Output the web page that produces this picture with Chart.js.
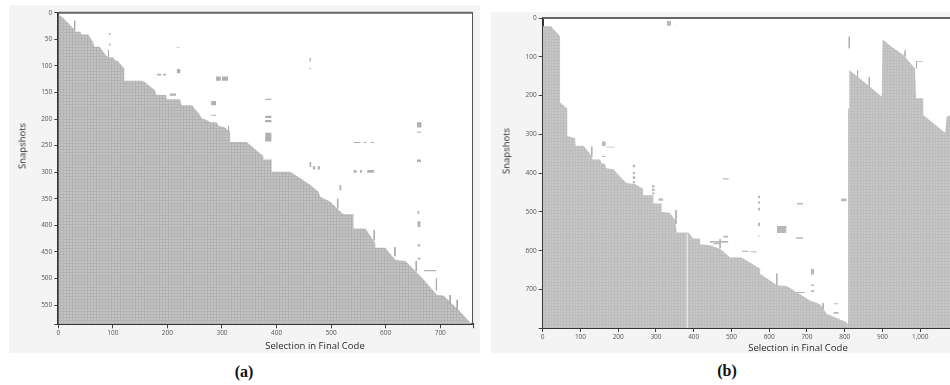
<!DOCTYPE html>
<html><head><meta charset="utf-8">
<script src="https://cdn.jsdelivr.net/npm/chart.js@4.4.1/dist/chart.umd.min.js"></script>
<style>
html,body{margin:0;padding:0;width:950px;height:385px;overflow:hidden;background:#fff;position:relative;}
canvas{position:absolute;background:#f4f4f4;}
#ca{left:9px;top:5px;}
#cb{left:491px;top:12px;}
.t{position:absolute;font-family:'Open Sans',sans-serif;font-size:9.5px;color:#2a2a2a;white-space:nowrap;transform:translate(-50%,-50%);}
.r{transform:translate(-50%,-50%) rotate(-90deg);}
.cap{position:absolute;font-family:'Liberation Serif',serif;font-weight:bold;font-size:16px;color:#111;white-space:nowrap;transform:translate(-50%,-50%);}
</style></head><body>
<canvas id="ca" width="471" height="348"></canvas>
<canvas id="cb" width="470" height="341"></canvas>
<div class="t r" style="left:21.7px;top:145.7px">Snapshots</div>
<div class="t" style="left:315px;top:345px">Selection in Final Code</div>
<div class="t r" style="left:506px;top:150.7px">Snapshots</div>
<div class="t" style="left:798px;top:347px">Selection in Final Code</div>
<div class="cap" style="left:244px;top:372px">(a)</div>
<div class="cap" style="left:727px;top:371px">(b)</div>
<script>
// ---------- Panel (a) data ----------
const xTicksA = [0,100,200,300,400,500,600,700];
const yTicksA = [0,50,100,150,200,250,300,350,400,450,500,550];
const xMaxA = 760, yMaxA = 586;
// first snapshot in which each selection appears (staircase boundary)
const boundaryA = [[0,3],[9,10],[29,31],[32,36],[40,36],[43,41],[55,41],[64,56],[66,64],[76,64],[87,80],[92,84],[101,84],[104,90],[108,90],[121,105],[121,128],[155,128],[165,136],[177,146],[180,155],[197,155],[199,163],[223,163],[226,174],[245,174],[260,193],[263,199],[272,202],[278,206],[290,206],[294,213],[304,215],[315,224],[315,243],[345,243],[376,270],[376,276],[391,276],[391,299],[425,299],[443,311],[462,324],[477,337],[480,346],[498,355],[520,377],[523,379],[541,379],[541,406],[563,406],[581,434],[581,442],[599,442],[618,465],[636,467],[667,499],[694,531],[706,532],[737,563],[758,586],[760,586]];
// isolated blocks [x0,x1,y0,y1]
const blocksA = [[93,96,38,42],[93,96,58,62],[216,223,65,66],[217,224,106,114],[181,189,115,118],[192,198,115,118],[204,216,152,156],[289,298,120,128],[300,311,120,128],[280,289,166,174],[280,289,192,194],[460,463,85,92],[460,463,104,106],[379,391,162,164],[379,391,194,198],[379,391,202,206],[379,391,226,242],[657,666,206,216],[657,665,224,226],[657,665,276,281],[541,554,243,245],[559,565,243,245],[572,579,243,245],[460,464,281,290],[466,471,289,295],[475,480,289,295],[541,547,296,301],[553,557,296,301],[566,579,296,301],[515,519,324,334],[658,662,373,378],[658,664,392,403],[658,664,436,439],[658,664,461,464],[670,693,484,486]];
// thin vertical runs [x,y0,y1]
const spikesA = [[30,15,33],[92,70,84],[312,213,224],[512,350,368],[579,409,428],[617,441,458],[656,467,486],[693,500,522],[718,531,547],[731,540,560]];
const gapsA = [];

// ---------- Panel (b) data ----------
const xTicksB = [0,100,200,300,400,500,600,700,800,900,1000];
const yTicksB = [0,100,200,300,400,500,600,700];
const xMaxB = 1100, yMaxB = 799;
const boundaryB = [[0,21],[22,21],[46,48],[46,218],[65,233],[65,304],[86,310],[87,329],[108,329],[125,349],[132,365],[152,365],[156,375],[165,375],[168,387],[187,390],[213,417],[222,425],[244,428],[266,440],[266,457],[293,457],[293,478],[315,478],[315,500],[337,502],[351,521],[355,553],[386,553],[399,568],[417,568],[417,583],[443,586],[470,595],[496,617],[527,617],[576,646],[576,659],[620,689],[646,691],[708,728],[735,738],[752,762],[805,784],[808,790],[809,790],[809,233],[812,233],[812,134],[867,177],[898,203],[900,55],[924,74],[955,95],[986,130],[989,207],[1008,207],[1008,250],[1066,296],[1070,255],[1100,240]];
const blocksB = [[329,340,8,20],[349,352,18,20],[157,167,318,330],[168,191,332,334],[156,165,356,358],[238,245,378,385],[238,245,397,403],[238,245,408,415],[238,245,420,426],[289,297,431,437],[289,297,440,446],[289,297,450,454],[306,319,465,471],[452,470,580,583],[477,493,413,416],[570,576,458,464],[570,576,473,479],[570,576,489,496],[570,576,528,536],[570,576,561,563],[620,646,536,554],[673,690,477,481],[671,690,565,569],[710,719,647,661],[710,719,687,691],[710,719,702,706],[770,784,735,738],[770,784,758,762],[790,805,465,472],[478,492,561,566],[443,492,575,579],[527,545,600,603],[550,567,601,604],[671,695,706,709],[990,1008,111,113]];
const spikesB = [[812,48,78],[834,134,152],[865,152,176],[960,84,99],[990,111,130],[620,659,689],[743,735,750],[470,570,593],[130,332,358],[353,495,531]];
const gapsB = [[383,556,799]];

// ---------- drawing ----------
function texture(base, line, n){
  const c=document.createElement('canvas'); c.width=c.height=n;
  const g=c.getContext('2d'); g.fillStyle=base; g.fillRect(0,0,n,n);
  g.fillStyle=line; g.fillRect(0,0,n,1); g.fillRect(0,0,1,n);
  return g.createPattern(c,'repeat');
}
const framePlugin = {
  id:'frame',
  beforeDraw(chart){const {ctx,chartArea:a}=chart; ctx.save(); ctx.fillStyle='#fff'; ctx.fillRect(a.left,a.top,a.right-a.left,a.bottom-a.top); ctx.restore();},
  afterDraw(chart){const {ctx,chartArea:a}=chart; ctx.save();
    ctx.strokeStyle='#666'; ctx.lineWidth=2; ctx.beginPath(); ctx.moveTo(a.left,a.top); ctx.lineTo(a.right,a.top); ctx.stroke();
    ctx.strokeStyle='#555'; ctx.lineWidth=1; ctx.beginPath(); ctx.moveTo(a.right-0.5,a.top); ctx.lineTo(a.right-0.5,a.bottom); ctx.stroke();
    ctx.restore();}
};
function segs(list){const out=[]; list.forEach(s=>{out.push({x:s[0],y:s[1]},{x:s[0],y:s[2]},{x:s[0],y:null});}); return out;}
const NONE='rgba(0,0,0,0)';
function build(id, c){
  const ds=[];
  c.blocks.forEach(b=>ds.push({data:[{x:b[0],y:b[2]},{x:b[1],y:b[2]}],fill:{value:b[3]},backgroundColor:c.mark,borderColor:NONE,borderWidth:0,pointRadius:0}));
  ds.push({data:segs(c.spikes),borderColor:c.spike,borderWidth:1,pointRadius:0,fill:false,spanGaps:false});
  ds.push({data:segs(c.gaps),borderColor:'#e4e4e4',borderWidth:1,pointRadius:0,fill:false,spanGaps:false});
  ds.push({data:c.boundary.map(p=>({x:p[0],y:p[1]})),fill:{value:c.ymax},backgroundColor:c.fill,borderColor:NONE,borderWidth:0,pointRadius:0});
  const tickFont={family:"'Open Sans'",size:6.5};
  const fmt=v=>Number(v).toLocaleString('en-US');
  new Chart(document.getElementById(id),{
    type:'line',
    data:{datasets:ds},
    plugins:[framePlugin],
    options:{
      responsive:false,animation:false,devicePixelRatio:1,events:[],
      layout:{padding:{top:c.padTop,right:c.padRight,left:0,bottom:0}},
      plugins:{legend:{display:false},tooltip:{enabled:false}},
      elements:{line:{tension:0}},
      scales:{
        x:{type:'linear',min:0,max:c.xmax,
          afterBuildTicks:s=>{s.ticks=c.xticks.concat([c.xmax]).map(v=>({value:v}));},
          afterFit:s=>{s.height=c.xH;},
          ticks:{autoSkip:false,maxRotation:0,font:tickFont,color:'#555',padding:1,callback:v=>c.xticks.includes(v)?fmt(v):''},
          grid:{drawOnChartArea:false,drawTicks:true,tickLength:4,color:'#444'},
          border:{display:true,color:'#333',width:2}},
        y:{type:'linear',reverse:true,min:0,max:c.ymax,
          afterBuildTicks:s=>{s.ticks=c.yticks.concat([c.ymax]).map(v=>({value:v}));},
          afterFit:s=>{s.width=c.yW;},
          ticks:{autoSkip:false,font:tickFont,color:'#555',padding:2,callback:v=>c.yticks.includes(v)?fmt(v):''},
          grid:{drawOnChartArea:false,drawTicks:true,tickLength:4,color:'#444'},
          border:{display:true,color:'#333',width:2}}
      }
    }
  });
}
build('ca',{boundary:boundaryA,blocks:blocksA,spikes:spikesA,gaps:gapsA,xticks:xTicksA,yticks:yTicksA,xmax:xMaxA,ymax:yMaxA,
  fill:texture('#c3c3c3','#b3b3b3',3),mark:'#b0b0b0',spike:'#a8a8a8',padTop:7.7,padRight:7,xH:28.7,yW:49.3});
build('cb',{boundary:boundaryB,blocks:blocksB,spikes:spikesB,gaps:gapsB,xticks:xTicksB,yticks:yTicksB,xmax:xMaxB,ymax:yMaxB,
  fill:texture('#c7c7c7','#bdbdbd',3),mark:'#b8b8b8',spike:'#b0b0b0',padTop:6,padRight:3,xH:25,yW:51.7});
</script>
</body></html>
